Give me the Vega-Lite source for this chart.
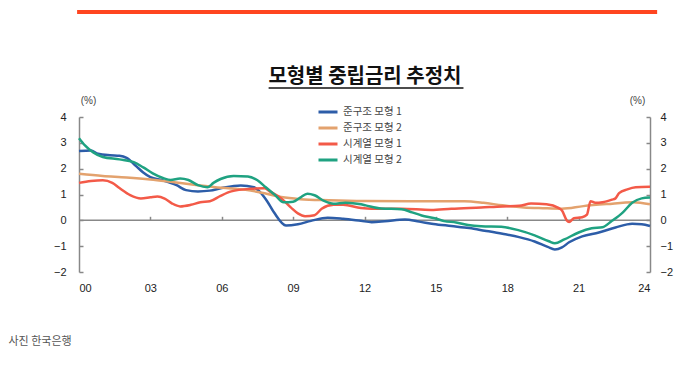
{
  "$schema": "https://vega.github.io/schema/vega-lite/v6.json",
  "width": 571,
  "height": 155,
  "autosize": {"type": "none"},
  "padding": {"left": 79, "top": 117, "right": 35, "bottom": 94},
  "background": "white",
  "config": {
    "view": {"stroke": null},
    "font": "Noto Sans CJK KR",
    "axis": {"grid": false, "domainColor": "#888", "tickColor": "#888", "domainWidth": 1.5, "tickWidth": 1.5, "labelColor": "#222", "labelFontSize": 11, "labelFont": "Liberation Sans"}
  },
  "datasets": {
    "one": [{"k": 1}],
    "rates": [
      {"s": "준구조 모형 1", "t": 2000.0, "v": 2.68},
      {"s": "준구조 모형 1", "t": 2000.5, "v": 2.7},
      {"s": "준구조 모형 1", "t": 2000.8, "v": 2.58},
      {"s": "준구조 모형 1", "t": 2001.3, "v": 2.52},
      {"s": "준구조 모형 1", "t": 2001.7, "v": 2.5},
      {"s": "준구조 모형 1", "t": 2002.0, "v": 2.42},
      {"s": "준구조 모형 1", "t": 2002.4, "v": 2.1},
      {"s": "준구조 모형 1", "t": 2002.7, "v": 1.85},
      {"s": "준구조 모형 1", "t": 2003.0, "v": 1.67},
      {"s": "준구조 모형 1", "t": 2003.5, "v": 1.55},
      {"s": "준구조 모형 1", "t": 2004.1, "v": 1.36},
      {"s": "준구조 모형 1", "t": 2004.5, "v": 1.17},
      {"s": "준구조 모형 1", "t": 2005.0, "v": 1.12},
      {"s": "준구조 모형 1", "t": 2005.5, "v": 1.15},
      {"s": "준구조 모형 1", "t": 2006.0, "v": 1.25},
      {"s": "준구조 모형 1", "t": 2006.8, "v": 1.35},
      {"s": "준구조 모형 1", "t": 2007.35, "v": 1.28},
      {"s": "준구조 모형 1", "t": 2007.6, "v": 1.1},
      {"s": "준구조 모형 1", "t": 2007.9, "v": 0.75},
      {"s": "준구조 모형 1", "t": 2008.2, "v": 0.3},
      {"s": "준구조 모형 1", "t": 2008.7, "v": -0.2},
      {"s": "준구조 모형 1", "t": 2009.2, "v": -0.15},
      {"s": "준구조 모형 1", "t": 2009.75, "v": -0.02},
      {"s": "준구조 모형 1", "t": 2010.45, "v": 0.1},
      {"s": "준구조 모형 1", "t": 2011.1, "v": 0.06},
      {"s": "준구조 모형 1", "t": 2011.85, "v": -0.02},
      {"s": "준구조 모형 1", "t": 2012.3, "v": -0.07},
      {"s": "준구조 모형 1", "t": 2012.85, "v": -0.04},
      {"s": "준구조 모형 1", "t": 2013.7, "v": 0.03},
      {"s": "준구조 모형 1", "t": 2014.3, "v": -0.05},
      {"s": "준구조 모형 1", "t": 2014.9, "v": -0.14},
      {"s": "준구조 모형 1", "t": 2015.65, "v": -0.22},
      {"s": "준구조 모형 1", "t": 2016.4, "v": -0.3},
      {"s": "준구조 모형 1", "t": 2017.05, "v": -0.4},
      {"s": "준구조 모형 1", "t": 2017.8, "v": -0.52},
      {"s": "준구조 모형 1", "t": 2018.5, "v": -0.65},
      {"s": "준구조 모형 1", "t": 2019.15, "v": -0.82},
      {"s": "준구조 모형 1", "t": 2019.7, "v": -1.03},
      {"s": "준구조 모형 1", "t": 2020.0, "v": -1.13},
      {"s": "준구조 모형 1", "t": 2020.3, "v": -1.05},
      {"s": "준구조 모형 1", "t": 2020.6, "v": -0.85},
      {"s": "준구조 모형 1", "t": 2021.15, "v": -0.62},
      {"s": "준구조 모형 1", "t": 2021.85, "v": -0.47},
      {"s": "준구조 모형 1", "t": 2022.55, "v": -0.28},
      {"s": "준구조 모형 1", "t": 2023.25, "v": -0.13},
      {"s": "준구조 모형 1", "t": 2023.65, "v": -0.15},
      {"s": "준구조 모형 1", "t": 2024.0, "v": -0.22},
      {"s": "준구조 모형 2", "t": 2000.0, "v": 1.8},
      {"s": "준구조 모형 2", "t": 2001.0, "v": 1.72},
      {"s": "준구조 모형 2", "t": 2002.0, "v": 1.66},
      {"s": "준구조 모형 2", "t": 2003.0, "v": 1.58},
      {"s": "준구조 모형 2", "t": 2004.0, "v": 1.47},
      {"s": "준구조 모형 2", "t": 2005.0, "v": 1.36},
      {"s": "준구조 모형 2", "t": 2006.0, "v": 1.26},
      {"s": "준구조 모형 2", "t": 2007.0, "v": 1.18},
      {"s": "준구조 모형 2", "t": 2007.8, "v": 1.05},
      {"s": "준구조 모형 2", "t": 2008.5, "v": 0.9},
      {"s": "준구조 모형 2", "t": 2009.3, "v": 0.82},
      {"s": "준구조 모형 2", "t": 2010.5, "v": 0.78},
      {"s": "준구조 모형 2", "t": 2012.0, "v": 0.75},
      {"s": "준구조 모형 2", "t": 2014.0, "v": 0.74},
      {"s": "준구조 모형 2", "t": 2016.2, "v": 0.74},
      {"s": "준구조 모형 2", "t": 2017.0, "v": 0.68},
      {"s": "준구조 모형 2", "t": 2017.8, "v": 0.58},
      {"s": "준구조 모형 2", "t": 2018.7, "v": 0.5},
      {"s": "준구조 모형 2", "t": 2019.5, "v": 0.47},
      {"s": "준구조 모형 2", "t": 2020.3, "v": 0.45},
      {"s": "준구조 모형 2", "t": 2021.2, "v": 0.55},
      {"s": "준구조 모형 2", "t": 2022.2, "v": 0.63},
      {"s": "준구조 모형 2", "t": 2023.3, "v": 0.7},
      {"s": "준구조 모형 2", "t": 2024.0, "v": 0.62},
      {"s": "시계열 모형 1", "t": 2000.0, "v": 1.45},
      {"s": "시계열 모형 1", "t": 2000.5, "v": 1.52},
      {"s": "시계열 모형 1", "t": 2001.0, "v": 1.55},
      {"s": "시계열 모형 1", "t": 2001.4, "v": 1.45},
      {"s": "시계열 모형 1", "t": 2001.7, "v": 1.25},
      {"s": "시계열 모형 1", "t": 2002.15, "v": 0.98},
      {"s": "시계열 모형 1", "t": 2002.6, "v": 0.85},
      {"s": "시계열 모형 1", "t": 2003.0, "v": 0.89},
      {"s": "시계열 모형 1", "t": 2003.3, "v": 0.92},
      {"s": "시계열 모형 1", "t": 2003.6, "v": 0.84},
      {"s": "시계열 모형 1", "t": 2003.9, "v": 0.66},
      {"s": "시계열 모형 1", "t": 2004.25, "v": 0.54},
      {"s": "시계열 모형 1", "t": 2004.7, "v": 0.6},
      {"s": "시계열 모형 1", "t": 2005.1, "v": 0.7},
      {"s": "시계열 모형 1", "t": 2005.5, "v": 0.74},
      {"s": "시계열 모형 1", "t": 2005.95, "v": 0.95},
      {"s": "시계열 모형 1", "t": 2006.4, "v": 1.12},
      {"s": "시계열 모형 1", "t": 2007.2, "v": 1.22},
      {"s": "시계열 모형 1", "t": 2007.8, "v": 1.24},
      {"s": "시계열 모형 1", "t": 2008.05, "v": 1.1},
      {"s": "시계열 모형 1", "t": 2008.5, "v": 0.85},
      {"s": "시계열 모형 1", "t": 2008.9, "v": 0.5},
      {"s": "시계열 모형 1", "t": 2009.2, "v": 0.27},
      {"s": "시계열 모형 1", "t": 2009.5, "v": 0.16},
      {"s": "시계열 모형 1", "t": 2009.9, "v": 0.2},
      {"s": "시계열 모형 1", "t": 2010.2, "v": 0.45},
      {"s": "시계열 모형 1", "t": 2010.7, "v": 0.6},
      {"s": "시계열 모형 1", "t": 2011.1, "v": 0.6},
      {"s": "시계열 모형 1", "t": 2011.85, "v": 0.48},
      {"s": "시계열 모형 1", "t": 2012.3, "v": 0.45},
      {"s": "시계열 모형 1", "t": 2013.55, "v": 0.45},
      {"s": "시계열 모형 1", "t": 2014.8, "v": 0.4},
      {"s": "시계열 모형 1", "t": 2015.65, "v": 0.45},
      {"s": "시계열 모형 1", "t": 2016.9, "v": 0.5},
      {"s": "시계열 모형 1", "t": 2017.8, "v": 0.54},
      {"s": "시계열 모형 1", "t": 2018.5, "v": 0.56},
      {"s": "시계열 모형 1", "t": 2019.0, "v": 0.65},
      {"s": "시계열 모형 1", "t": 2019.65, "v": 0.62},
      {"s": "시계열 모형 1", "t": 2020.15, "v": 0.48},
      {"s": "시계열 모형 1", "t": 2020.3, "v": 0.38},
      {"s": "시계열 모형 1", "t": 2020.5, "v": 0.0},
      {"s": "시계열 모형 1", "t": 2020.6, "v": -0.06},
      {"s": "시계열 모형 1", "t": 2020.8, "v": 0.08},
      {"s": "시계열 모형 1", "t": 2021.15, "v": 0.12},
      {"s": "시계열 모형 1", "t": 2021.35, "v": 0.22},
      {"s": "시계열 모형 1", "t": 2021.5, "v": 0.74},
      {"s": "시계열 모형 1", "t": 2021.7, "v": 0.68},
      {"s": "시계열 모형 1", "t": 2022.0, "v": 0.7},
      {"s": "시계열 모형 1", "t": 2022.4, "v": 0.8},
      {"s": "시계열 모형 1", "t": 2022.55, "v": 0.85},
      {"s": "시계열 모형 1", "t": 2022.7, "v": 1.05},
      {"s": "시계열 모형 1", "t": 2023.05, "v": 1.2},
      {"s": "시계열 모형 1", "t": 2023.4, "v": 1.28},
      {"s": "시계열 모형 1", "t": 2024.0, "v": 1.3},
      {"s": "시계열 모형 2", "t": 2000.0, "v": 3.18},
      {"s": "시계열 모형 2", "t": 2000.25, "v": 2.9},
      {"s": "시계열 모형 2", "t": 2000.6, "v": 2.63},
      {"s": "시계열 모형 2", "t": 2001.0, "v": 2.45},
      {"s": "시계열 모형 2", "t": 2001.7, "v": 2.36},
      {"s": "시계열 모형 2", "t": 2002.3, "v": 2.25},
      {"s": "시계열 모형 2", "t": 2002.7, "v": 2.05},
      {"s": "시계열 모형 2", "t": 2003.1, "v": 1.82},
      {"s": "시계열 모형 2", "t": 2003.55, "v": 1.63},
      {"s": "시계열 모형 2", "t": 2003.85, "v": 1.56},
      {"s": "시계열 모형 2", "t": 2004.25, "v": 1.62},
      {"s": "시계열 모형 2", "t": 2004.6, "v": 1.56},
      {"s": "시계열 모형 2", "t": 2005.0, "v": 1.36},
      {"s": "시계열 모형 2", "t": 2005.4, "v": 1.28},
      {"s": "시계열 모형 2", "t": 2005.65, "v": 1.45},
      {"s": "시계열 모형 2", "t": 2005.95, "v": 1.6},
      {"s": "시계열 모형 2", "t": 2006.5, "v": 1.72},
      {"s": "시계열 모형 2", "t": 2007.1, "v": 1.7},
      {"s": "시계열 모형 2", "t": 2007.5, "v": 1.55},
      {"s": "시계열 모형 2", "t": 2007.85, "v": 1.28},
      {"s": "시계열 모형 2", "t": 2008.25, "v": 0.97},
      {"s": "시계열 모형 2", "t": 2008.6, "v": 0.7},
      {"s": "시계열 모형 2", "t": 2009.0, "v": 0.72},
      {"s": "시계열 모형 2", "t": 2009.3, "v": 0.88},
      {"s": "시계열 모형 2", "t": 2009.6, "v": 1.03},
      {"s": "시계열 모형 2", "t": 2009.9, "v": 0.97},
      {"s": "시계열 모형 2", "t": 2010.3, "v": 0.75},
      {"s": "시계열 모형 2", "t": 2010.7, "v": 0.64},
      {"s": "시계열 모형 2", "t": 2011.2, "v": 0.68},
      {"s": "시계열 모형 2", "t": 2011.85, "v": 0.62},
      {"s": "시계열 모형 2", "t": 2012.05, "v": 0.58},
      {"s": "시계열 모형 2", "t": 2012.7, "v": 0.46},
      {"s": "시계열 모형 2", "t": 2013.55, "v": 0.43},
      {"s": "시계열 모형 2", "t": 2014.0, "v": 0.31},
      {"s": "시계열 모형 2", "t": 2014.4, "v": 0.19},
      {"s": "시계열 모형 2", "t": 2014.95, "v": 0.08},
      {"s": "시계열 모형 2", "t": 2015.35, "v": -0.03},
      {"s": "시계열 모형 2", "t": 2015.85, "v": -0.08},
      {"s": "시계열 모형 2", "t": 2016.35, "v": -0.18},
      {"s": "시계열 모형 2", "t": 2016.9, "v": -0.23},
      {"s": "시계열 모형 2", "t": 2017.75, "v": -0.25},
      {"s": "시계열 모형 2", "t": 2018.5, "v": -0.39},
      {"s": "시계열 모형 2", "t": 2019.15, "v": -0.58},
      {"s": "시계열 모형 2", "t": 2019.75, "v": -0.81},
      {"s": "시계열 모형 2", "t": 2020.0, "v": -0.89},
      {"s": "시계열 모형 2", "t": 2020.4, "v": -0.74},
      {"s": "시계열 모형 2", "t": 2021.0, "v": -0.47},
      {"s": "시계열 모형 2", "t": 2021.55, "v": -0.31},
      {"s": "시계열 모형 2", "t": 2022.0, "v": -0.27},
      {"s": "시계열 모형 2", "t": 2022.4, "v": -0.02},
      {"s": "시계열 모형 2", "t": 2022.85, "v": 0.3},
      {"s": "시계열 모형 2", "t": 2023.25, "v": 0.68},
      {"s": "시계열 모형 2", "t": 2023.65, "v": 0.85},
      {"s": "시계열 모형 2", "t": 2024.0, "v": 0.88}
    ]
  },
  "resolve": {"axis": {"x": "independent", "y": "independent"}},
  "layer": [
    {
      "data": {"name": "one"},
      "mark": {"type": "rule", "color": "#888", "strokeWidth": 1.5},
      "encoding": {
        "x": {
          "datum": 2000, "type": "quantitative",
          "scale": {"domain": [2000, 2024], "nice": false, "zero": false},
          "axis": {"orient": "bottom", "offset": -51.7, "values": [2003, 2006, 2009, 2012, 2015, 2018, 2021], "tickSize": -4, "labels": false, "domain": false, "title": null}
        },
        "x2": {"datum": 2024},
        "y": {
          "datum": 0, "type": "quantitative",
          "scale": {"domain": [-2, 4], "nice": false},
          "axis": {
            "orient": "right", "values": [-2, -1, 0, 1, 2, 3, 4], "tickSize": -4, "labelPadding": 14,
            "title": "(%)", "titleAngle": 0, "titleX": -13, "titleY": -12, "titleAlign": "center", "titleBaseline": "bottom",
            "titleFontSize": 10, "titleFontWeight": "normal", "titleColor": "#444", "titleFont": "Liberation Sans"
          }
        }
      }
    },
    {
      "data": {"name": "rates"},
      "mark": {"type": "line", "strokeWidth": 2.5, "interpolate": "monotone"},
      "encoding": {
        "x": {
          "field": "t", "type": "quantitative",
          "axis": {
            "orient": "bottom", "values": [2000, 2003, 2006, 2009, 2012, 2015, 2018, 2021, 2024],
            "labelExpr": "pad(toString(datum.value % 100), 2, '0', 'left')",
            "domain": false, "ticks": false, "labelPadding": 10,
            "title": "사진 한국은행", "titleX": -71, "titleY": 69, "titleAlign": "left", "titleBaseline": "middle",
            "titleFontSize": 11, "titleFontWeight": "normal", "titleColor": "#555", "titleFont": "Noto Sans CJK KR"
          }
        },
        "y": {
          "field": "v", "type": "quantitative",
          "axis": {
            "orient": "left", "values": [-2, -1, 0, 1, 2, 3, 4], "tickSize": -4, "labelPadding": 17,
            "title": "(%)", "titleAngle": 0, "titleX": 9, "titleY": -12, "titleAlign": "center", "titleBaseline": "bottom",
            "titleFontSize": 10, "titleFontWeight": "normal", "titleColor": "#444", "titleFont": "Liberation Sans"
          }
        },
        "color": {
          "field": "s", "type": "nominal",
          "scale": {"domain": ["준구조 모형 1", "준구조 모형 2", "시계열 모형 1", "시계열 모형 2"], "range": ["#2D5DA8", "#E3A26E", "#F35A48", "#1FA281"]},
          "legend": {
            "orient": "none", "legendX": 238, "legendY": -13, "title": null,
            "symbolType": "stroke", "symbolSize": 361, "symbolStrokeWidth": 3, "clipHeight": 16, "rowPadding": 0,
            "labelFontSize": 10.5, "labelColor": "#444", "labelOffset": 4
          }
        }
      }
    },
    {
      "data": {"name": "one"},
      "mark": {"type": "rule", "color": "#FF4520", "strokeWidth": 4},
      "encoding": {
        "x": {"datum": 1999.92, "type": "quantitative", "axis": null},
        "x2": {"datum": 2024.3},
        "y": {"datum": 8.06, "type": "quantitative", "axis": null}
      }
    },
    {
      "data": {"name": "one"},
      "mark": {"type": "text", "text": "모형별 중립금리 추정치", "fontSize": 20, "fontWeight": "bold", "color": "#111", "align": "center", "baseline": "alphabetic"},
      "encoding": {
        "x": {"datum": 2012.02, "type": "quantitative", "axis": null},
        "y": {"datum": 5.33, "type": "quantitative", "axis": null}
      }
    },
    {
      "data": {"name": "one"},
      "mark": {"type": "rule", "color": "#111", "strokeWidth": 1.5},
      "encoding": {
        "x": {"datum": 2007.97, "type": "quantitative", "axis": null},
        "x2": {"datum": 2016.16},
        "y": {"datum": 5.12, "type": "quantitative", "axis": null}
      }
    }
  ]
}
